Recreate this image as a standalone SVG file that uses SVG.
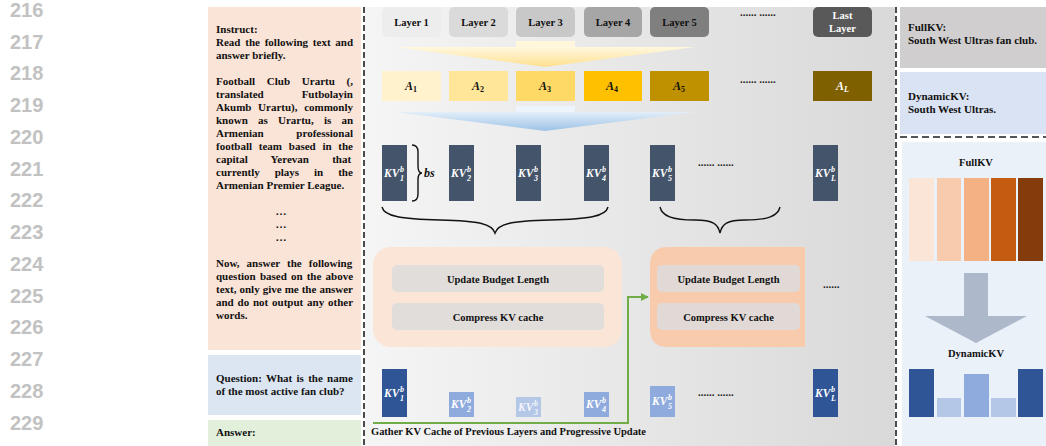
<svg xmlns="http://www.w3.org/2000/svg" width="1046" height="446" viewBox="0 0 1046 446">
<style>
.ln{font-family:"Liberation Sans",Arial,sans-serif;font-size:20px;fill:#c2c2c2;font-weight:bold}
.t{font-family:"Liberation Serif","Times New Roman",serif;font-weight:bold;font-size:11px;fill:#111}
.lt{font-family:"Liberation Serif","Times New Roman",serif;font-weight:bold;font-size:10.5px;fill:#111;text-anchor:middle}
.kv{font-family:"Liberation Serif","Times New Roman",serif;font-weight:bold;font-style:italic;font-size:11.5px;fill:#fff}
.ks{font-size:8px}
.av{font-family:"Liberation Serif","Times New Roman",serif;font-weight:bold;font-style:italic;font-size:12px;fill:#111}
.dots{font-family:"Liberation Serif","Times New Roman",serif;font-weight:bold;font-size:11px;fill:#222}
.dash{stroke:#111;stroke-width:1.5;stroke-dasharray:6 3;fill:none}
.kvt{fill:#44546a}
.inner{fill:#dcdcdc;fill-opacity:0.85}
.brace{fill:none;stroke:#111;stroke-width:1.4}
</style>
<defs>
<linearGradient id="bg" x1="0" y1="0" x2="1" y2="0">
<stop offset="0" stop-color="#f5f5f5"/><stop offset="1" stop-color="#d9d9d9"/>
</linearGradient>
<linearGradient id="yel" x1="0" y1="0" x2="0" y2="1">
<stop offset="0" stop-color="#fff8e0"/><stop offset="1" stop-color="#ffe08f"/>
</linearGradient>
<linearGradient id="blu" x1="0" y1="0" x2="0" y2="1">
<stop offset="0" stop-color="#e3eef9"/><stop offset="1" stop-color="#9dc3e6"/>
</linearGradient>
<marker id="ga" viewBox="0 0 10 10" refX="9" refY="5" markerWidth="4" markerHeight="4" orient="auto">
<path d="M0,0 L10,5 L0,10 Z" fill="#70ad47"/>
</marker>
</defs>

<g id="line-numbers">
<text class="ln" x="10" y="17">216</text>
<text class="ln" x="10" y="49">217</text>
<text class="ln" x="10" y="80">218</text>
<text class="ln" x="10" y="112">219</text>
<text class="ln" x="10" y="144">220</text>
<text class="ln" x="10" y="176">221</text>
<text class="ln" x="10" y="207">222</text>
<text class="ln" x="10" y="239">223</text>
<text class="ln" x="10" y="271">224</text>
<text class="ln" x="10" y="303">225</text>
<text class="ln" x="10" y="334">226</text>
<text class="ln" x="10" y="366">227</text>
<text class="ln" x="10" y="398">228</text>
<text class="ln" x="10" y="430">229</text>
</g>

<g id="prompt">
<rect x="208" y="7" width="153" height="343" fill="#fae3d7"/>
<text class="t" x="216" y="33">Instruct:</text>
<text class="t" x="216" y="46" word-spacing="2.03">Read the following text and</text>
<text class="t" x="216" y="59">answer briefly.</text>
<text class="t" x="216" y="85" word-spacing="9.0">Football Club Urartu (,</text>
<text class="t" x="216" y="98">translated</text>
<text class="t" x="353" y="98" text-anchor="end">Futbolayin</text>
<text class="t" x="216" y="111" word-spacing="3.9">Akumb Urartu), commonly</text>
<text class="t" x="216" y="124" word-spacing="7.44">known as Urartu, is an</text>
<text class="t" x="216" y="137">Armenian</text>
<text class="t" x="353" y="137" text-anchor="end">professional</text>
<text class="t" x="216" y="150" word-spacing="4.0">football team based in the</text>
<text class="t" x="216" y="163" word-spacing="20.5">capital Yerevan that</text>
<text class="t" x="216" y="176" word-spacing="12.16">currently plays in the</text>
<text class="t" x="216" y="189">Armenian Premier League.</text>
<text class="t" x="281" y="215" text-anchor="middle">…</text>
<text class="t" x="281" y="228" text-anchor="middle">…</text>
<text class="t" x="281" y="241" text-anchor="middle">…</text>
<text class="t" x="216" y="267" word-spacing="4.32">Now, answer the following</text>
<text class="t" x="216" y="280" word-spacing="1.4">question based on the above</text>
<text class="t" x="216" y="293" word-spacing="0.27">text, only give me the answer</text>
<text class="t" x="216" y="306" word-spacing="1.06">and do not output any other</text>
<text class="t" x="216" y="319">words.</text>
</g>
<g id="question">
<rect x="208" y="355" width="153" height="60" fill="#dce6f2"/>
<text class="t" x="216" y="382" word-spacing="1.55">Question: What is the name</text>
<text class="t" x="216" y="395">of the most active fan club?</text>
</g>
<g id="answer">
<rect x="208" y="420" width="153" height="26" fill="#e2efda"/>
<text class="t" x="216" y="436">Answer:</text>
</g>

<g id="main-panel">
<rect x="365" y="7" width="530" height="439" fill="url(#bg)"/>
</g>

<g id="layers">
<rect x="382" y="7" width="59" height="30" rx="5" fill="#ededed"/>
<text class="lt" x="411.5" y="26">Layer 1</text>
<rect x="449" y="7" width="59" height="30" rx="5" fill="#dadada"/>
<text class="lt" x="478.5" y="26">Layer 2</text>
<rect x="516" y="7" width="59" height="30" rx="5" fill="#c8c8c8"/>
<text class="lt" x="545.5" y="26">Layer 3</text>
<rect x="584" y="7" width="58" height="30" rx="5" fill="#a6a6a6"/>
<text class="lt" x="613" y="26">Layer 4</text>
<rect x="650" y="7" width="59" height="30" rx="5" fill="#7f7f7f"/>
<text class="lt" x="679.5" y="26">Layer 5</text>
<text class="dots" x="740" y="16">...... ......</text>
<rect x="813" y="7" width="59" height="30" rx="5" fill="#595959"/>
<text class="lt" x="842.5" y="19" style="fill:#fff">Last</text>
<text class="lt" x="842.5" y="32" style="fill:#fff">Layer</text>
</g>

<g id="attn-arrow">
<rect x="516" y="41" width="59" height="6" fill="#fff6dc"/>
<polygon points="395,47 695,47 545,67" fill="url(#yel)"/>
</g>

<g id="attention">
<rect x="382" y="71" width="59" height="30" fill="#fff2cc"/>
<text class="av" x="405" y="90">A<tspan class="ks" dy="2" font-style="normal">1</tspan></text>
<rect x="449" y="71" width="59" height="30" fill="#ffe699"/>
<text class="av" x="472" y="90">A<tspan class="ks" dy="2" font-style="normal">2</tspan></text>
<rect x="516" y="71" width="59" height="30" fill="#ffd966"/>
<text class="av" x="539" y="90">A<tspan class="ks" dy="2" font-style="normal">3</tspan></text>
<rect x="584" y="71" width="58" height="30" fill="#ffc000"/>
<text class="av" x="606" y="90">A<tspan class="ks" dy="2" font-style="normal">4</tspan></text>
<rect x="650" y="71" width="59" height="30" fill="#bf9000"/>
<text class="av" x="673" y="90">A<tspan class="ks" dy="2" font-style="normal">5</tspan></text>
<text class="dots" x="740" y="83">...... ......</text>
<rect x="813" y="71" width="59" height="30" fill="#7f6000"/>
<text class="av" x="836" y="90" style="fill:#fff">A<tspan class="ks" dy="2">L</tspan></text>
</g>

<g id="budget-arrow">
<rect x="516" y="106" width="59" height="6" fill="#edf4fb"/>
<polygon points="395,112 695,112 545,131" fill="url(#blu)"/>
</g>

<g id="kv-top">
<rect class="kvt" x="382" y="145" width="25" height="56"/>
<text class="kv" x="384" y="177">KV<tspan class="ks" x="400" y="172">b</tspan><tspan class="ks" x="400" y="181">1</tspan></text>
<rect class="kvt" x="449" y="145" width="25" height="56"/>
<text class="kv" x="451" y="177">KV<tspan class="ks" x="467" y="172">b</tspan><tspan class="ks" x="467" y="181">2</tspan></text>
<rect class="kvt" x="516" y="145" width="25" height="56"/>
<text class="kv" x="518" y="177">KV<tspan class="ks" x="534" y="172">b</tspan><tspan class="ks" x="534" y="181">3</tspan></text>
<rect class="kvt" x="584" y="145" width="25" height="56"/>
<text class="kv" x="586" y="177">KV<tspan class="ks" x="602" y="172">b</tspan><tspan class="ks" x="602" y="181">4</tspan></text>
<rect class="kvt" x="650" y="145" width="25" height="56"/>
<text class="kv" x="652" y="177">KV<tspan class="ks" x="668" y="172">b</tspan><tspan class="ks" x="668" y="181">5</tspan></text>
<text class="dots" x="698" y="166">...... ......</text>
<rect class="kvt" x="813" y="145" width="25" height="56"/>
<text class="kv" x="815" y="177">KV<tspan class="ks" x="831" y="172">b</tspan><tspan class="ks" x="831" y="181">L</tspan></text>
<path class="brace" d="M412,145 Q418,145 418,152 L418,166 Q418,173 422,173 Q418,173 418,180 L418,194 Q418,201 412,201"/>
<text class="av" x="424" y="177">bs</text>
</g>

<g id="braces">
<path class="brace" d="M382,207 C384,216 400,219 440,220 C480,221 492,224 495,233 C498,224 510,221 550,220 C590,219 606,216 608,207"/>
<path class="brace" d="M660,207 C662,216 672,220 695,220 C713,220 718,224 720,233 C722,224 727,220 745,220 C768,220 778,216 780,207"/>
</g>

<g id="module-1">
<rect x="373" y="247" width="249" height="100" rx="18" fill="#fbe5d6"/>
<rect class="inner" x="392" y="265" width="212" height="27" rx="5"/>
<text class="lt" x="498" y="283">Update Budget Length</text>
<rect class="inner" x="392" y="303" width="212" height="27" rx="5"/>
<text class="lt" x="498" y="321">Compress KV cache</text>
</g>

<g id="module-2">
<path d="M668,247 H805 V347 H668 Q650,347 650,329 V265 Q650,247 668,247 Z" fill="#f8cbad"/>
<rect class="inner" x="657" y="265" width="143" height="27" rx="5"/>
<text class="lt" x="728.5" y="283">Update Budget Length</text>
<rect class="inner" x="657" y="303" width="143" height="27" rx="5"/>
<text class="lt" x="728.5" y="321">Compress KV cache</text>
<text class="dots" x="823" y="288">......</text>
</g>

<g id="kv-bottom">
<rect x="382" y="369" width="25" height="48" fill="#2f5597"/>
<text class="kv" x="384" y="397">KV<tspan class="ks" x="400" y="392">b</tspan><tspan class="ks" x="400" y="401">1</tspan></text>
<rect x="449" y="392" width="25" height="25" fill="#8faadc"/>
<text class="kv" x="451" y="408">KV<tspan class="ks" x="467" y="403">b</tspan><tspan class="ks" x="467" y="412">2</tspan></text>
<rect x="516" y="397" width="25" height="20" fill="#b4c7e7"/>
<text class="kv" x="518" y="411" fill-opacity="0.85">KV<tspan class="ks" x="534" y="406">b</tspan><tspan class="ks" x="534" y="415">3</tspan></text>
<rect x="584" y="392" width="25" height="25" fill="#8faadc"/>
<text class="kv" x="586" y="408">KV<tspan class="ks" x="602" y="403">b</tspan><tspan class="ks" x="602" y="412">4</tspan></text>
<rect x="650" y="386" width="25" height="31" fill="#8faadc"/>
<text class="kv" x="652" y="405">KV<tspan class="ks" x="668" y="400">b</tspan><tspan class="ks" x="668" y="409">5</tspan></text>
<text class="dots" x="698" y="396">...... ......</text>
<rect x="813" y="369" width="25" height="48" fill="#2f5597"/>
<text class="kv" x="815" y="397">KV<tspan class="ks" x="831" y="392">b</tspan><tspan class="ks" x="831" y="401">L</tspan></text>
</g>

<g id="connectors">
<polyline points="373,423 628,423 628,297 648,297" fill="none" stroke="#70ad47" stroke-width="2" marker-end="url(#ga)"/>
</g>
<text class="t" x="371" y="435" textLength="275" lengthAdjust="spacingAndGlyphs">Gather KV Cache of Previous Layers and Progressive Update</text>

<g id="outputs">
<rect x="900" y="7" width="146" height="61" fill="#d0cece"/>
<text class="t" x="908" y="31">FullKV:</text>
<text class="t" x="908" y="44">South West Ultras fan club.</text>
<rect x="900" y="72" width="146" height="62" fill="#dae3f3"/>
<text class="t" x="908" y="100">DynamicKV:</text>
<text class="t" x="908" y="113">South West Ultras.</text>
</g>

<g id="comparison">
<rect x="902" y="142" width="144" height="304" fill="#ebf1f9"/>
<text class="lt" x="976" y="166">FullKV</text>
<rect x="909" y="178" width="25" height="83" fill="#fbe5d6"/>
<rect x="937" y="178" width="24" height="83" fill="#f8cbad"/>
<rect x="964" y="178" width="25" height="83" fill="#f4b183"/>
<rect x="991" y="178" width="25" height="83" fill="#c55a11"/>
<rect x="1018" y="178" width="25" height="83" fill="#843c0c"/>
<polygon points="964,273 988,273 988,316 1027,316 976,343 925,316 964,316" fill="#adb9ca"/>
<text class="lt" x="976" y="357">DynamicKV</text>
<rect x="909" y="369" width="25" height="48" fill="#2f5597"/>
<rect x="937" y="398" width="24" height="19" fill="#b4c7e7"/>
<rect x="964" y="374" width="25" height="43" fill="#8faadc"/>
<rect x="991" y="398" width="25" height="19" fill="#b4c7e7"/>
<rect x="1018" y="369" width="25" height="48" fill="#2f5597"/>
</g>

<g id="separators">
<line class="dash" x1="364" y1="7" x2="364" y2="446"/>
<line class="dash" x1="896" y1="7" x2="896" y2="446"/>
<line x1="900" y1="137" x2="1046" y2="137" stroke="#555" stroke-width="2" stroke-dasharray="7 4"/>
</g>
</svg>
